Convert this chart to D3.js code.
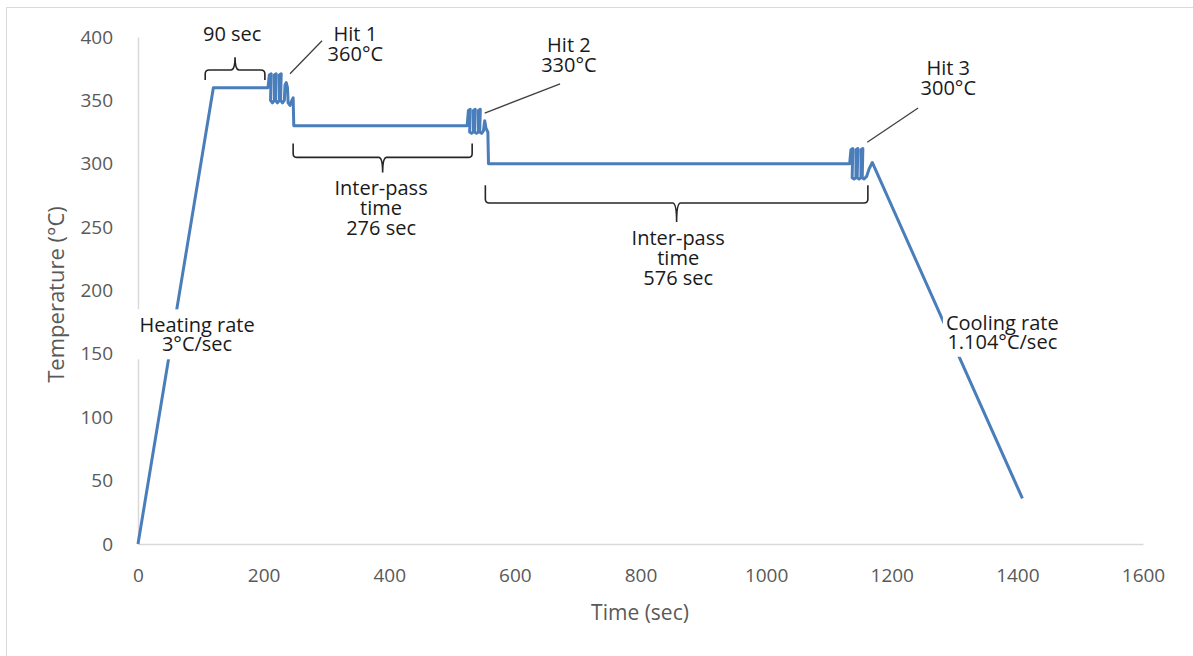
<!DOCTYPE html>
<html>
<head>
<meta charset="utf-8">
<script src="https://cdn.jsdelivr.net/npm/d3@7"></script>
<style>
  body { margin: 0; background: #fff; }
  svg text { font-family: "Open Sans", "Noto Sans", sans-serif; }
</style>
</head>
<body>
<svg class="grafico" width="1193" height="656"></svg>
<script>
// profile: time (sec) and temperature (°C)
const timeSec = [0, 120, 206,
  207, 209, 212, 211, 214, 217, 217, 220, 219, 222, 225, 225, 228, 227, 230, 233,
  234, 236, 238, 239, 242, 245, 247, 248,
  524,
  526, 529, 528, 531, 534, 534, 537, 536, 539, 542, 542, 545, 544, 547, 550, 552, 554, 557, 558,
  1133,
  1135, 1138, 1137, 1140, 1143, 1143, 1146, 1145, 1148, 1151, 1151, 1154, 1153, 1156, 1160, 1164, 1169,
  1408]
const tempC = [0, 360, 360,
  360, 370, 371, 350, 348, 350, 370, 371, 350, 348, 350, 370, 371, 350, 348, 350,
  362, 364, 360, 348, 346, 350, 352, 330,
  330,
  342, 343, 325, 324, 325, 342, 343, 325, 324, 325, 342, 343, 325, 324, 326, 334, 328, 325, 300,
  300,
  311, 312, 289, 288, 289, 311, 312, 289, 288, 289, 311, 312, 289, 288, 290, 296, 301,
  36]

const xTicks = [0, 200, 400, 600, 800, 1000, 1200, 1400, 1600]
const yTicks = [0, 50, 100, 150, 200, 250, 300, 350, 400]

// braces: start, end (sec), end-hook, bar and tip temperature (°C)
const braceStart = [107, 247, 553]
const braceEnd = [202, 532, 1162]
const braceHook = [366, 316, 283]
const braceBar = [374, 305, 269]
const braceTip = [384, 293, 254]

// leader lines for the hits (sec, °C)
const leaderX1 = [242, 552, 1161]
const leaderY1 = [371, 340, 317]
const leaderX2 = [293, 672, 1242]
const leaderY2 = [397, 363, 344]

// text notes: centre (sec), first baseline (°C), lines
const noteX = [150, 346, 686, 1290, 387, 860]
const noteY = [397, 397, 388, 370, 275, 236]
const noteLines = [
  ['90 sec'],
  ['Hit 1', '360°C'],
  ['Hit 2', '330°C'],
  ['Hit 3', '300°C'],
  ['Inter-pass', 'time', '276 sec'],
  ['Inter-pass', 'time', '576 sec']
]
const rateX = [94, 1376]
const rateY = [167, 169]
const rateLines = [['Heating rate', '3°C/sec'], ['Cooling rate', '1.104°C/sec']]

const svg = d3.select('.grafico')

const x = d3.scaleLinear().domain([0, 1600]).range([138, 1143])
const y = d3.scaleLinear().domain([0, 400]).range([544, 37])

// outer frame
svg.append('rect')
  .attr('x', 6.5).attr('y', 7.5)
  .attr('width', 1300).attr('height', 800)
  .attr('fill', 'none').attr('stroke', '#d9d9d9')

// axes
svg.append('g')
  .attr('transform', `translate(0,${y(0)})`)
  .call(d3.axisBottom(x).tickValues(xTicks).tickFormat(d3.format('d')).tickSize(0).tickPadding(25))
svg.append('g')
  .attr('transform', `translate(${x(0)},0)`)
  .call(d3.axisLeft(y).tickValues(yTicks).tickSize(0).tickPadding(25))

svg.selectAll('.domain').attr('stroke', '#d9d9d9').attr('stroke-width', 1.5)
svg.selectAll('.tick text')
  .attr('fill', '#595959')
  .style('font-size', '19px')
  .style('font-family', '"Open Sans", sans-serif')

svg.append('text')
  .attr('x', 640).attr('y', 620)
  .attr('text-anchor', 'middle')
  .attr('fill', '#595959')
  .style('font-size', '21px')
  .text('Time (sec)')

svg.append('text')
  .attr('transform', `translate(64,${y(200) + 4}) rotate(-90)`)
  .attr('text-anchor', 'middle')
  .attr('fill', '#595959')
  .style('font-size', '22px')
  .text('Temperature (°C)')

// profile line
const puntos = timeSec.map((t, i) => [t, tempC[i]])
const linea = d3.line().x(d => x(d[0])).y(d => y(d[1]))

svg.append('path')
  .datum(puntos)
  .attr('d', linea)
  .attr('fill', 'none')
  .attr('stroke', '#4a7ebb')
  .attr('stroke-width', 3)
  .attr('stroke-linejoin', 'round')

// braces
braceStart.forEach((s, i) => {
  const x1 = x(s), x2 = x(braceEnd[i]), xm = (x1 + x2) / 2
  const yh = y(braceHook[i]), yb = y(braceBar[i]), yt = y(braceTip[i])
  const dir = yb > yh ? 1 : -1
  const r = 4
  const p = d3.path()
  p.moveTo(x1, yh)
  p.lineTo(x1, yb - dir * r)
  p.quadraticCurveTo(x1, yb, x1 + r, yb)
  p.lineTo(xm - r, yb)
  p.quadraticCurveTo(xm, yb, xm, yt)
  p.quadraticCurveTo(xm, yb, xm + r, yb)
  p.lineTo(x2 - r, yb)
  p.quadraticCurveTo(x2, yb, x2, yb - dir * r)
  p.lineTo(x2, yh)
  svg.append('path')
    .attr('d', p.toString())
    .attr('fill', 'none')
    .attr('stroke', '#262626')
    .attr('stroke-width', 1.6)
})

// leader lines
leaderX1.forEach((v, i) => {
  svg.append('line')
    .attr('x1', x(v)).attr('y1', y(leaderY1[i]))
    .attr('x2', x(leaderX2[i])).attr('y2', y(leaderY2[i]))
    .attr('stroke', '#404040')
    .attr('stroke-width', 1.3)
})

// notes
noteLines.forEach((lines, i) => {
  const t = svg.append('text')
    .attr('text-anchor', 'middle')
    .attr('fill', '#1a1a1a')
    .style('font-size', '20px')
  lines.forEach((l, j) => {
    t.append('tspan')
      .attr('x', x(noteX[i]))
      .attr('y', y(noteY[i]) + j * 20)
      .text(l)
  })
})

// rate labels, with white box behind them
rateLines.forEach((lines, i) => {
  const g = svg.append('g')
  const caja = g.append('rect').attr('fill', '#fff')
  const t = g.append('text')
    .attr('text-anchor', 'middle')
    .attr('fill', '#1a1a1a')
    .style('font-size', '20px')
  lines.forEach((l, j) => {
    t.append('tspan')
      .attr('x', x(rateX[i]))
      .attr('y', y(rateY[i]) + j * 19)
      .text(l)
  })
  const bb = t.node().getBBox()
  caja.attr('x', bb.x - 3).attr('y', bb.y - 2)
    .attr('width', bb.width + 6).attr('height', bb.height + 4)
})
</script>
</body>
</html>
